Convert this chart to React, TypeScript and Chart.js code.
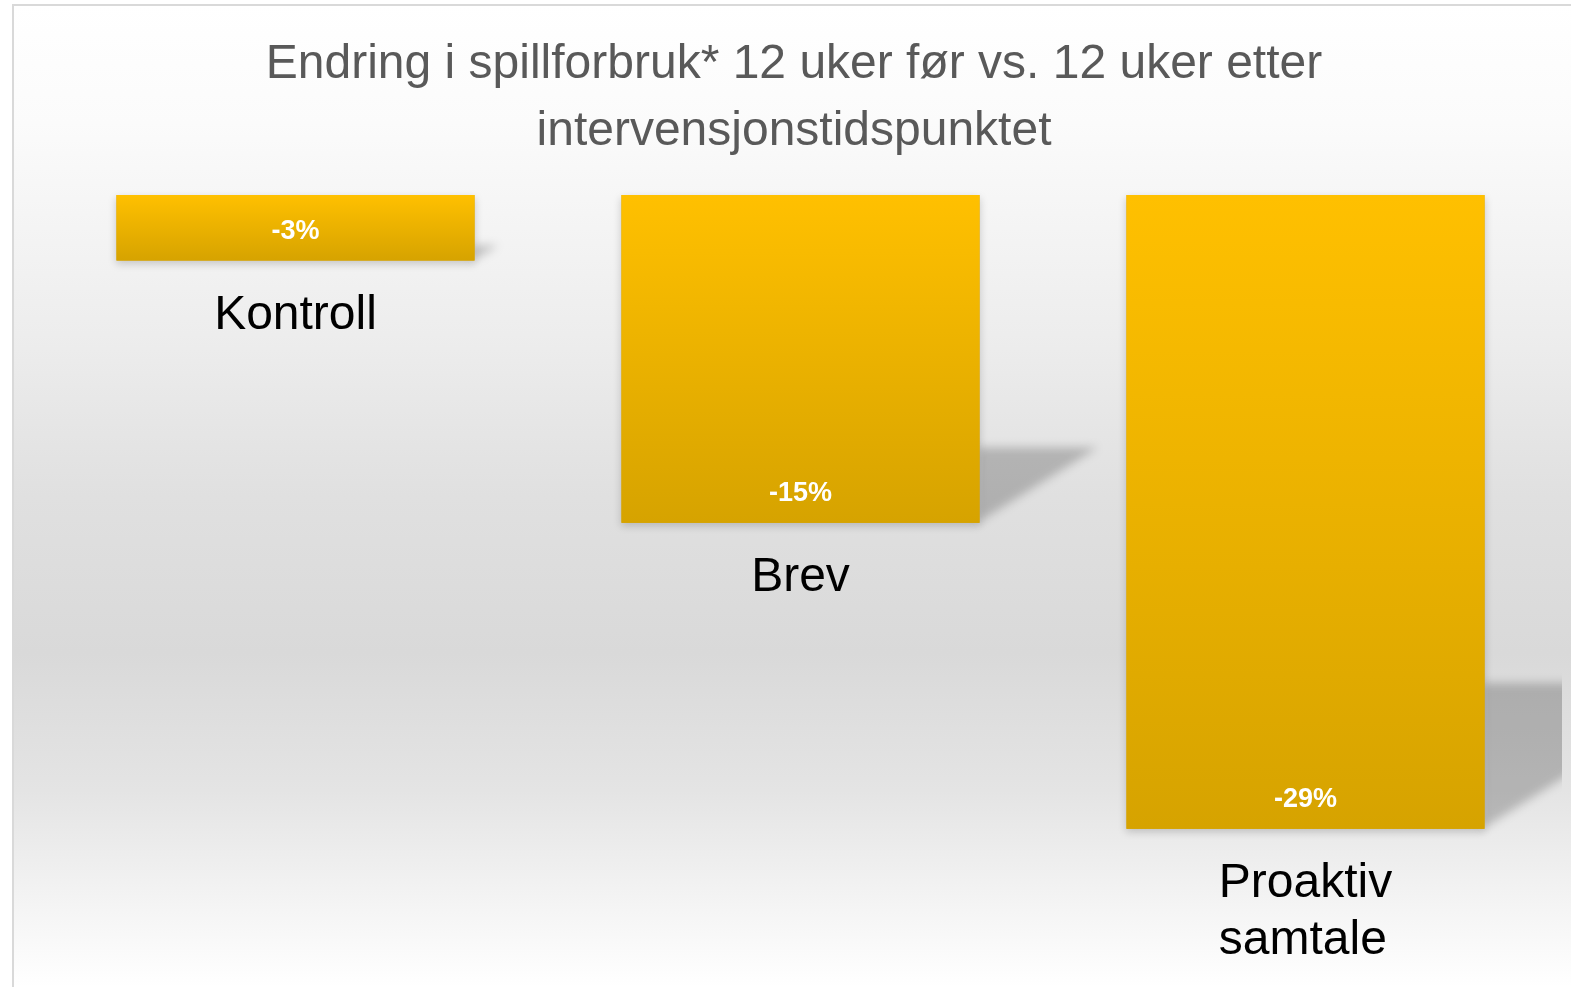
import React, { useEffect, useRef } from "react";
import { Chart, registerables } from "chart.js";

Chart.register(...registerables);

const titleLines = ["Endring i spillforbruk* 12 uker før vs. 12 uker etter", "intervensjonstidspunktet"];
const categories: string[][] = [["Kontroll"], ["Brev"], ["Proaktiv", "samtale"]];
const changeValues = [-3, -15, -29];
const valueLabels = ["-3%", "-15%", "-29%"];
const yMin = -35;
const yMax = 0;

const FONT = "'Liberation Sans', Arial, Helvetica, sans-serif";

const backgroundPlugin = {
  id: "slideBackground",
  beforeDraw(chart: any) {
    const { ctx, width, height } = chart;
    ctx.save();
    ctx.fillStyle = "#ffffff";
    ctx.fillRect(0, 0, width, height);
    const g = ctx.createLinearGradient(0, 5, 0, height);
    g.addColorStop(0, "#ffffff");
    g.addColorStop(0.12, "#fbfbfb");
    g.addColorStop(0.35, "#ececec");
    g.addColorStop(0.5, "#e0e0e0");
    g.addColorStop(0.66, "#d9d9d9");
    g.addColorStop(0.8, "#e4e4e4");
    g.addColorStop(0.9, "#f2f2f2");
    g.addColorStop(1, "#ffffff");
    ctx.fillStyle = g;
    ctx.fillRect(13, 5, width - 13, height - 5);
    ctx.strokeStyle = "#d9d9d9";
    ctx.lineWidth = 2;
    ctx.beginPath();
    ctx.moveTo(13, height);
    ctx.lineTo(13, 5);
    ctx.lineTo(width, 5);
    ctx.stroke();

    // title
    ctx.fillStyle = "#595959";
    ctx.font = `48px ${FONT}`;
    ctx.textAlign = "center";
    ctx.textBaseline = "alphabetic";
    titleLines.forEach((line, i) => {
      ctx.fillText(line, 794, 78 + i * 67);
    });
    ctx.restore();
  },
};

const shadowPlugin = {
  id: "barShadows",
  beforeDatasetsDraw(chart: any) {
    const { ctx, chartArea } = chart;
    const meta = chart.getDatasetMeta(0);
    ctx.save();
    ctx.beginPath();
    ctx.rect(0, 0, chartArea.right + 4, chart.height);
    ctx.clip();
    meta.data.forEach((bar: any) => {
      const props = bar.getProps(["x", "y", "base", "width"], true);
      const right = props.x + props.width / 2;
      const left = props.x - props.width / 2;
      const bottom = props.y;
      const h = Math.abs(props.y - props.base);
      ctx.save();
      ctx.filter = "blur(5px)";
      ctx.fillStyle = "rgba(0,0,0,0.21)";
      ctx.beginPath();
      ctx.moveTo(right - 2, bottom);
      ctx.lineTo(right - 2, bottom - 0.23 * h);
      ctx.lineTo(right + 0.36 * h, bottom - 0.23 * h);
      ctx.closePath();
      ctx.fill();
      ctx.restore();
      ctx.save();
      ctx.shadowColor = "rgba(0,0,0,0.18)";
      ctx.shadowBlur = 8;
      ctx.shadowOffsetY = 3;
      ctx.fillStyle = "#d6a300";
      ctx.fillRect(left, props.base, props.width, h);
      ctx.restore();
    });
    ctx.restore();
  },
};

const labelsPlugin = {
  id: "barLabels",
  afterDatasetsDraw(chart: any) {
    const { ctx } = chart;
    const meta = chart.getDatasetMeta(0);
    ctx.save();
    ctx.textBaseline = "middle";
    meta.data.forEach((bar: any, i: number) => {
      const props = bar.getProps(["x", "y", "base"], true);
      ctx.textAlign = "center";
      ctx.fillStyle = "#ffffff";
      ctx.font = `bold 27px ${FONT}`;
      ctx.fillText(valueLabels[i], props.x, props.y - 29);
      ctx.fillStyle = "#000000";
      ctx.font = `48px ${FONT}`;
      const lines = categories[i];
      const blockW = Math.max(...lines.map((l) => ctx.measureText(l).width));
      ctx.textAlign = "left";
      const x0 = props.x - blockW / 2;
      lines.forEach((line, j) => {
        ctx.fillText(line, x0, props.y + 55 + j * 57);
      });
    });
    ctx.restore();
  },
};

export default function App() {
  const canvasRef = useRef<HTMLCanvasElement | null>(null);

  useEffect(() => {
    document.body.style.margin = "0";
    const canvas = canvasRef.current;
    if (!canvas) return;
    const chart = new Chart(canvas, {
      type: "bar",
      data: {
        labels: categories.map((c) => c.join(" ")),
        datasets: [
          {
            data: changeValues,
            backgroundColor: (context: any) => {
              const ch = context.chart;
              const area = ch.chartArea;
              const y = ch.scales?.y;
              if (!area || !y) return "#ebb200";
              const v = context.raw as number;
              const top = y.getPixelForValue(0);
              const bot = y.getPixelForValue(v);
              const g = ch.ctx.createLinearGradient(0, top, 0, bot);
              g.addColorStop(0, "#ffc000");
              g.addColorStop(1, "#d6a300");
              return g;
            },
            borderWidth: 0,
            categoryPercentage: 1,
            barPercentage: 0.709,
          },
        ],
      },
      options: {
        responsive: true,
        maintainAspectRatio: false,
        animation: false,
        layout: { padding: { top: 195, bottom: 27, left: 43, right: 13 } },
        plugins: {
          legend: { display: false },
          title: { display: false },
          tooltip: { enabled: false },
        },
        scales: {
          x: { display: false },
          y: { display: false, min: yMin, max: yMax },
        },
      },
      plugins: [backgroundPlugin, shadowPlugin, labelsPlugin],
    });
    return () => chart.destroy();
  }, []);

  return (
    <div style={{ position: "fixed", left: 0, top: 0, width: 1571, height: 987 }}>
      <canvas ref={canvasRef} />
    </div>
  );
}
